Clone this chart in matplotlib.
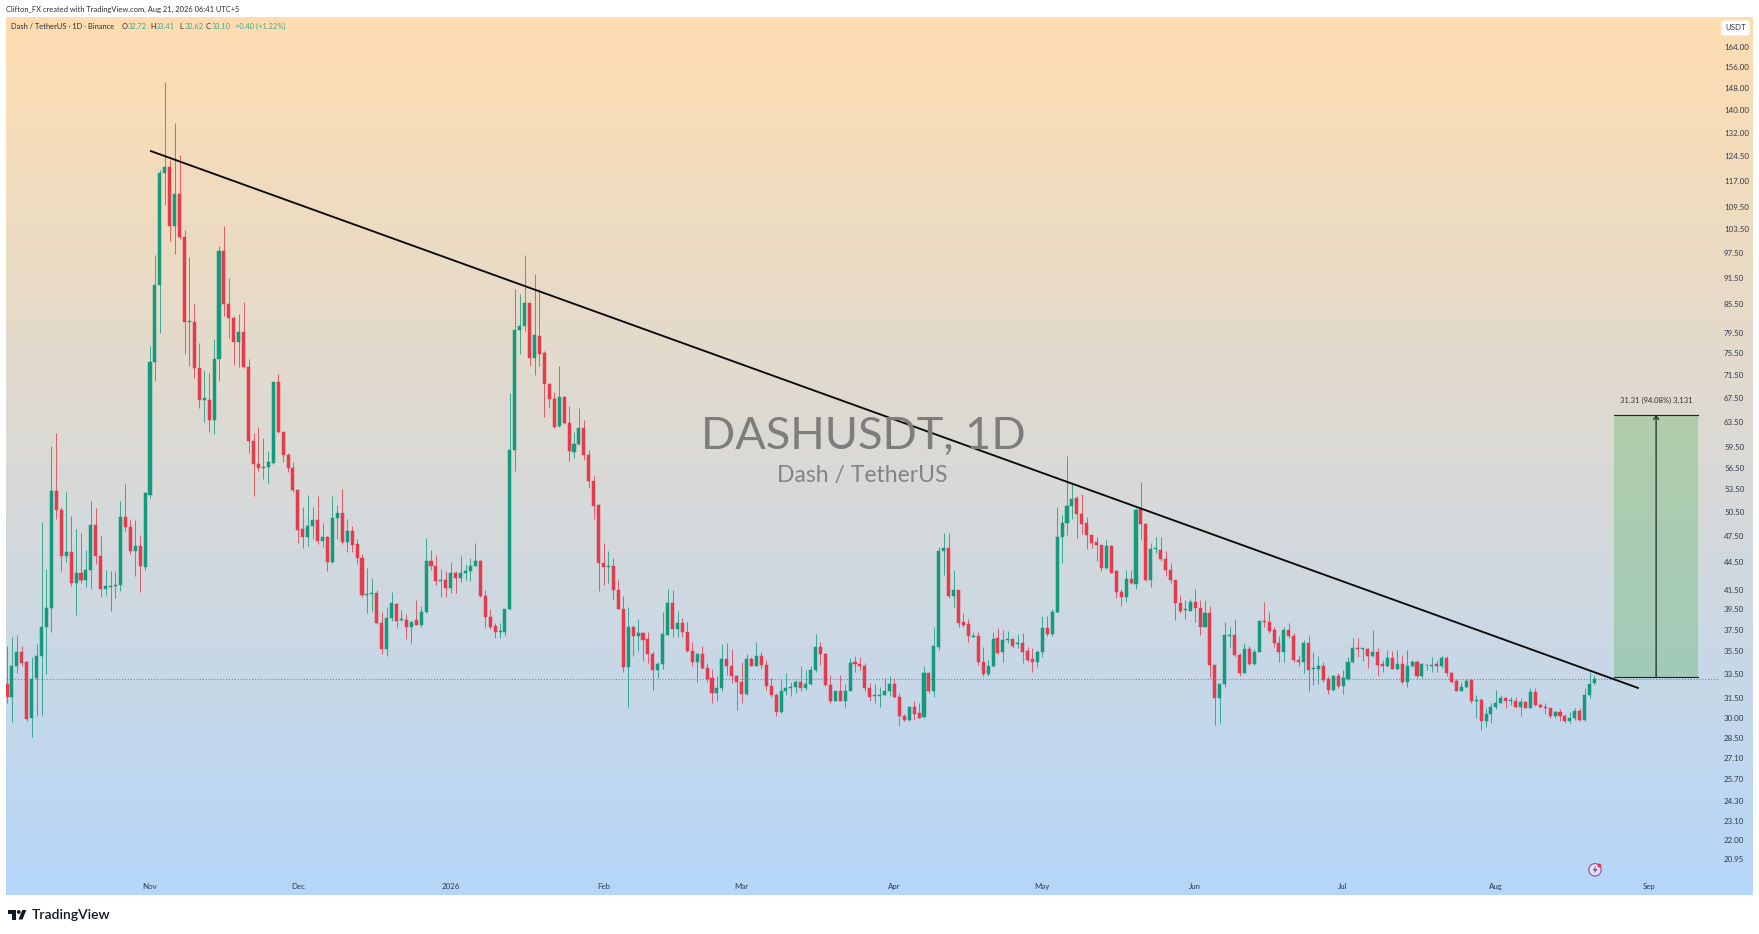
import numpy as np
import pandas as pd
import matplotlib
matplotlib.use("Agg")
import matplotlib.pyplot as plt
import matplotlib.dates as mdates
from matplotlib.patches import Rectangle, Circle, Polygon, FancyBboxPatch
from matplotlib.ticker import FixedLocator, FixedFormatter, NullLocator

start_date = "2025-10-03"
opens = [
32.67,31.58,34.22,35.4,34.5,29.97,33.13,35.1,37.7,39.57,
53.24,50.78,45.22,45.6,42.2,43.25,42.55,43.6,48.9,45.15,
41.6,41.75,41.85,42.0,49.85,48.65,45.7,46.3,43.9,52.8,
73.84,89.8,119.2,121.2,104.2,113.0,101.4,81.7,81.7,72.8,
67.1,67.1,63.7,74.5,98.0,85.6,82.7,77.8,79.8,72.9,
60.54,57.0,56.5,56.55,57.25,70.2,61.8,58.35,56.5,53.4,
48.4,47.45,48.7,49.5,46.98,47.45,44.45,49.7,50.4,46.8,
48.1,46.55,44.95,40.95,41.0,41.15,38.1,35.7,38.6,40.05,
38.4,38.4,37.75,38.4,37.95,39.25,44.6,44.05,42.4,42.55,
41.65,43.3,42.75,43.25,43.45,44.1,44.65,40.85,38.7,37.85,
37.25,37.3,39.5,59.1,80.2,80.9,85.8,74.6,79.0,75.5,
69.9,67.3,62.8,67.6,63.35,58.8,60.0,62.45,58.35,54.7,
51.45,44.35,43.9,44.1,41.45,39.55,34.1,37.75,36.85,37.15,
36.6,35.2,33.85,34.35,37.0,40.15,37.55,38.1,37.3,35.55,
34.5,35.25,34.0,33.15,31.95,32.3,34.8,34.2,33.3,32.85,
31.85,34.8,34.2,35.05,34.3,32.5,31.8,30.4,32.1,32.35,
32.4,32.85,32.3,32.65,33.8,35.9,35.2,32.6,31.3,32.05,
31.3,32.1,34.55,34.35,34.15,32.3,31.65,31.7,31.8,32.05,
32.7,31.6,30.13,29.85,30.85,30.35,30.05,33.6,32.1,35.9,
45.8,46.15,40.8,41.45,38.25,38.0,36.8,36.9,34.55,33.5,
34.2,36.7,35.4,36.55,36.6,36.15,36.25,35.5,34.8,34.55,
35.4,37.65,37.05,39.25,47.45,49.1,51.35,52.3,50.25,49.1,
47.6,46.8,46.4,43.8,46.3,43.45,41.25,40.75,42.65,42.1,
50.85,49.0,42.55,46.0,45.85,44.8,43.55,42.5,40.1,39.45,
39.35,40.2,39.57,37.75,39.15,34.25,31.5,32.65,36.85,36.95,
35.15,33.6,35.65,34.35,35.45,38.3,38.25,37.5,36.2,35.45,
37.45,36.9,34.75,34.5,36.25,33.9,33.9,34.2,33.1,32.15,
33.3,32.5,33.1,34.55,35.8,35.7,35.7,35.1,35.4,34.35,
34.15,34.85,33.9,34.4,32.85,34.15,34.55,33.35,34.3,34.2,
34.35,34.15,34.85,33.55,32.9,32.1,32.4,33.0,31.25,31.4,
29.7,30.3,30.85,31.15,31.5,31.3,31.3,30.85,31.2,30.75,
32.0,31.0,30.85,30.7,30.1,30.4,30.13,29.77,29.95,30.5,
29.8,31.75,32.72]
closes = [
31.58,34.22,35.4,34.45,29.9,33.08,35.1,37.7,39.57,53.24,
50.78,45.22,45.6,42.15,43.25,42.55,43.55,48.9,45.22,41.6,
41.85,41.85,42.0,49.85,48.65,45.7,46.3,44.0,52.97,73.84,
89.8,119.2,121.2,104.2,113.0,101.4,81.7,81.9,72.8,67.1,
67.35,63.7,74.5,98.0,85.6,82.7,77.8,79.8,72.9,60.54,
57.0,56.4,56.65,57.4,70.2,61.8,58.35,56.5,53.4,48.25,
47.45,48.7,49.5,46.98,47.4,44.55,49.7,50.4,46.8,48.1,
46.45,44.9,40.95,41.05,41.15,38.1,35.7,38.6,40.1,38.35,
38.5,37.7,38.25,37.95,39.25,44.6,44.0,42.4,42.55,41.65,
43.3,42.75,43.25,43.45,44.1,44.65,40.8,38.7,37.75,37.25,
37.35,39.5,59.1,80.2,80.9,85.8,74.6,79.1,75.4,69.9,
67.3,62.7,67.6,63.25,58.9,60.0,62.45,58.35,54.7,51.35,
44.35,43.9,44.1,41.45,39.5,34.1,37.75,36.85,37.15,36.55,
35.2,33.85,34.35,37.05,40.15,37.55,38.1,37.3,35.55,34.5,
35.25,34.0,33.05,31.95,32.3,34.8,34.15,33.3,32.85,31.85,
34.8,34.2,35.05,34.25,32.5,31.75,30.4,32.1,32.3,32.45,
32.85,32.3,32.65,33.85,35.9,35.2,32.6,31.3,32.05,31.3,
32.1,34.45,34.4,34.15,32.3,31.6,31.75,31.8,32.05,32.7,
31.6,30.13,29.85,30.85,30.3,30.0,33.6,32.1,35.95,45.8,
46.15,40.8,41.45,38.15,37.95,36.9,36.9,34.55,33.5,34.2,
36.6,35.3,36.55,36.6,36.0,36.25,35.45,34.75,34.55,35.4,
37.65,37.05,39.25,47.45,49.1,51.35,52.15,50.25,49.0,47.6,
46.75,46.4,43.8,46.3,43.3,41.25,40.75,42.65,42.2,50.8,
49.0,42.55,46.0,46.1,44.8,43.55,42.5,40.1,39.35,39.55,
40.2,39.57,37.75,39.15,34.25,31.5,32.65,36.95,36.95,35.15,
33.6,35.65,34.35,35.45,38.3,38.25,37.4,36.2,35.45,37.45,
36.9,34.7,34.5,36.25,33.8,34.0,34.2,33.0,32.15,33.35,
32.5,33.15,34.55,35.8,35.65,35.75,35.1,35.4,34.25,34.2,
34.85,33.95,34.4,32.85,34.15,34.5,33.35,34.4,34.25,34.3,
34.2,34.85,33.55,32.85,32.1,32.4,32.9,31.25,31.4,29.7,
30.3,30.85,31.15,31.5,31.25,31.4,30.85,31.2,30.75,32.0,
30.95,30.85,30.75,30.1,30.4,30.1,29.75,30.0,30.5,29.8,
31.8,32.7,33.1]
highs = [
36.0,36.76,37.0,36.0,34.65,35.0,36.15,49.2,43.7,59.7,
61.7,51.12,53.1,50.05,48.4,47.85,45.85,52.0,51.05,47.55,
43.6,43.5,43.5,52.0,54.25,49.65,49.55,47.7,53.2,76.87,
97.0,120.2,150.4,123.4,135.3,124.9,103.3,96.4,85.6,77.5,
72.4,71.8,78.3,99.1,104.4,91.4,83.0,83.4,86.1,74.45,
61.7,62.7,60.9,58.9,70.3,71.7,61.9,58.6,57.4,53.55,
51.12,52.8,51.2,52.6,49.1,47.55,52.6,51.45,53.55,49.65,
48.8,47.2,45.4,43.8,42.75,41.45,39.25,39.75,41.2,40.1,
39.4,39.0,38.35,40.4,39.85,47.3,45.85,45.3,43.7,43.45,
44.55,43.45,45.2,44.25,44.9,46.75,44.75,41.45,39.55,38.1,
38.15,39.55,68.3,88.8,87.7,97.0,85.9,92.4,88.9,76.0,
70.0,68.4,73.1,67.7,66.1,61.8,65.7,63.7,59.1,55.35,
51.5,46.75,45.7,44.9,42.55,40.8,39.75,37.95,38.5,37.3,
37.3,35.55,34.55,39.25,41.55,41.4,39.35,38.65,38.25,36.35,
35.3,35.95,34.45,33.9,33.3,36.15,36.25,35.7,33.4,34.5,
35.25,35.0,36.3,35.45,34.75,33.15,31.9,33.0,33.55,32.85,
33.0,34.2,33.85,34.15,37.05,36.35,35.3,33.4,32.05,33.4,
32.65,34.85,35.05,35.0,34.45,32.75,32.65,32.45,33.15,33.35,
33.15,31.9,30.25,30.9,31.3,31.15,34.2,33.7,37.75,46.25,
47.95,47.85,43.55,41.5,39.1,38.55,37.3,37.3,35.9,34.7,
37.3,37.65,37.5,37.4,36.7,37.05,37.2,35.9,35.75,35.6,
38.8,38.8,39.55,51.12,50.15,58.2,54.3,52.6,52.9,49.85,
47.7,47.4,46.45,47.05,46.45,43.6,41.55,43.6,43.6,51.0,
54.45,49.1,46.7,47.4,47.4,45.7,44.35,42.55,40.95,40.4,
40.5,41.55,40.4,40.4,39.85,34.3,32.7,38.25,37.75,38.5,
35.3,36.25,35.95,35.65,38.35,40.2,39.25,37.75,36.85,37.7,
38.15,37.2,35.15,36.55,36.95,35.45,35.05,34.55,33.3,33.4,
33.55,33.85,35.0,36.7,36.7,35.8,35.8,37.45,35.8,34.75,
35.6,35.55,35.6,35.15,35.6,34.75,34.75,34.45,34.4,35.0,
34.75,35.15,35.05,33.7,33.05,32.85,33.05,33.05,31.8,31.5,
30.7,31.1,32.2,31.75,31.6,31.6,31.6,31.55,31.3,32.3,
32.3,31.15,31.1,30.75,30.5,30.65,30.25,30.45,30.7,30.7,
32.3,33.7,33.41]
lows = [
31.11,29.64,33.55,34.22,29.77,28.53,30.13,30.2,33.5,37.24,
49.6,43.53,44.45,41.9,38.9,42.15,41.8,41.55,44.25,40.7,
40.95,39.35,40.6,41.3,48.15,45.4,42.9,41.2,43.6,52.4,
70.35,79.5,110.0,100.3,97.2,100.9,75.3,73.1,71.0,65.7,
63.5,61.8,61.6,70.35,83.0,78.5,73.4,72.9,72.8,58.6,
52.6,56.1,54.95,54.4,57.05,61.7,57.4,55.9,53.2,46.7,
46.15,46.35,47.2,46.55,46.2,43.45,44.4,47.2,46.55,45.6,
45.6,44.25,40.7,39.15,39.35,38.03,35.2,35.1,38.35,37.65,
38.35,36.6,36.2,37.9,37.75,39.15,43.55,42.0,40.75,40.75,
41.15,41.15,42.3,42.55,42.4,44.0,40.7,37.65,37.55,36.7,
36.7,36.85,39.4,56.1,75.4,79.9,73.2,71.5,73.2,64.2,
65.7,62.45,62.7,63.15,57.5,57.85,59.9,57.7,53.65,49.6,
41.3,42.0,42.2,40.4,39.5,33.7,30.85,35.1,35.55,34.65,
34.45,32.2,33.2,33.9,36.95,36.75,36.75,36.75,35.4,34.15,
32.85,33.9,32.85,31.15,31.3,32.1,33.4,32.75,30.6,31.15,
31.75,34.15,34.15,33.9,32.2,31.6,30.1,30.35,31.75,31.65,
31.95,32.1,32.2,32.6,33.7,34.25,32.5,31.15,31.25,31.25,
30.85,32.05,33.7,33.85,32.1,31.3,31.15,30.85,31.75,31.65,
31.5,29.35,29.77,29.7,29.8,29.95,30.0,31.9,31.6,35.6,
43.05,40.6,39.67,37.7,37.75,36.35,36.75,34.25,33.35,33.35,
34.1,35.25,34.55,36.2,35.8,35.8,34.45,34.55,33.7,34.1,
35.0,36.85,36.9,39.15,44.4,47.65,49.6,47.25,47.75,45.95,
46.15,44.65,43.45,43.7,43.25,40.6,39.85,40.25,42.05,41.55,
47.05,42.4,41.75,45.5,44.65,42.9,42.2,38.45,39.15,38.55,
39.3,38.25,36.95,37.7,33.15,29.45,29.6,32.4,35.9,35.0,
33.35,33.55,34.3,34.25,35.4,37.75,37.15,35.9,34.55,34.5,
36.7,34.55,34.2,33.55,32.05,32.6,32.7,32.85,31.85,32.1,
32.3,31.85,33.0,34.45,35.0,34.6,34.0,35.0,33.3,33.7,
34.1,33.9,33.85,32.7,32.45,34.1,33.2,33.15,33.85,33.7,
33.7,34.0,33.3,32.75,32.05,32.05,32.3,31.1,29.95,29.1,
29.3,29.6,30.65,31.1,30.75,30.95,30.75,30.1,30.7,30.7,
30.9,30.7,30.3,29.95,30.0,29.7,29.6,29.55,29.85,29.77,
29.7,31.5,32.62]

y_ticks = [164,156,148,140,132,124.5,117,109.5,103.5,97.5,91.5,85.5,79.5,75.5,71.5,67.5,
           63.5,59.5,56.5,53.5,50.5,47.5,44.5,41.5,39.5,37.5,35.5,33.5,31.5,30,28.5,27.1,
           25.7,24.3,23.1,22,20.95]
month_dates = ["2025-11-01","2025-12-01","2026-01-01","2026-02-01","2026-03-01","2026-04-01",
               "2026-05-01","2026-06-01","2026-07-01","2026-08-01","2026-09-01"]
month_labels = ["Nov","Dec","2026","Feb","Mar","Apr","May","Jun","Jul","Aug","Sep"]
last_close = 33.10
trend_dates = ["2025-11-01","2026-08-30"]
trend_prices = [126.2, 32.31]
target_dates = ["2026-08-25","2026-09-11"]
target_low, target_high = 33.28, 64.59
target_label = "31.31 (94.08%) 3,131"

W, H = 1759, 934
DPI = 100
FONT = "Lato"
plt.rcParams["font.family"] = [FONT, "DejaVu Sans"]
GREEN, RED = "#149a7c", "#e63a4d"
L, R, T, B = 6, 1752.5, 17, 895
PX_DAY = 4.93
NOV1_PX = 150.0
PX_LOG = 394.5

fig = plt.figure(figsize=(W/DPI, H/DPI), dpi=DPI, facecolor="white")
rect = [L/W, 1-B/H, (R-L)/W, (B-T)/H]

bg = fig.add_axes(rect, zorder=0)
bg.set_axis_off()
top_c = np.array([255, 221, 176])/255
bot_c = np.array([181, 214, 250])/255
t = np.linspace(0, 1, 256)[:, None, None]
grad = top_c[None, None, :]*(1-t) + bot_c[None, None, :]*t
bg.imshow(grad, aspect="auto", extent=[0, 1, 0, 1], origin="upper")

ax = fig.add_axes(rect, zorder=1)
ax.patch.set_alpha(0)
for s in ax.spines.values():
    s.set_visible(False)
ax.set_yscale("log")

dates = pd.date_range(start_date, periods=len(closes), freq="D")
x = mdates.date2num(dates)
nov1 = mdates.date2num(pd.Timestamp("2025-11-01"))
ax.set_xlim(nov1+(L-NOV1_PX)/PX_DAY, nov1+(R-NOV1_PX)/PX_DAY)
ax.set_ylim(33.5*np.exp((674-B)/PX_LOG), 33.5*np.exp((674-T)/PX_LOG))

o, c, hi, lo = map(np.array, (opens, closes, highs, lows))
up = c >= o
cols = np.where(up, GREEN, RED)
ax.vlines(x, lo, hi, colors=cols, linewidth=0.7, alpha=0.8, zorder=2)
ax.bar(x, np.abs(c-o), bottom=np.minimum(o, c), width=0.62, color=cols,
       edgecolor=cols, linewidth=0.35, zorder=3)

xl = ax.get_xlim()
lp_end = nov1+(1718-NOV1_PX)/PX_DAY
ax.plot([xl[0], lp_end], [last_close]*2, color="#6f8f96", lw=0.8, ls=(0, (1, 1.6)), zorder=1.5)

tx = mdates.date2num(pd.to_datetime(trend_dates))
ax.plot(tx, trend_prices, color="#0b0b0b", lw=1.35, zorder=4, solid_capstyle="butt")

ta, tb = mdates.date2num(pd.to_datetime(target_dates))
ax.add_patch(Rectangle((ta, target_low), tb-ta, target_high-target_low,
                       facecolor="#4caf50", alpha=0.3, edgecolor="none", zorder=1.6))
ax.plot([ta, tb], [target_high]*2, color="#1f2a24", lw=0.85, zorder=4)
ax.plot([ta, tb], [target_low]*2, color="#1f2a24", lw=0.85, zorder=4)
mid = (ta+tb)/2
ax.annotate("", xy=(mid, target_high), xytext=(mid, target_low),
            arrowprops=dict(arrowstyle="->,head_width=0.18,head_length=0.25", color="#1f2a24", lw=0.9,
                            shrinkA=0, shrinkB=0), zorder=4)
ax.text(mid, target_high*1.038, target_label, ha="center", va="center", fontsize=5.5, color="#333333")

ax.yaxis.set_major_locator(FixedLocator(y_ticks))
ax.yaxis.set_major_formatter(FixedFormatter([f"{v:.2f}" for v in y_ticks]))
ax.yaxis.set_minor_locator(NullLocator())
ax.yaxis.tick_right()
ax.tick_params(axis="y", which="major", length=0, pad=-20.5, labelsize=5.7, labelcolor="#2f3a48")
ax.xaxis.set_major_locator(FixedLocator(mdates.date2num(pd.to_datetime(month_dates))))
ax.xaxis.set_major_formatter(FixedFormatter(month_labels))
ax.xaxis.set_minor_locator(NullLocator())
ax.tick_params(axis="x", which="major", length=0, pad=-8.5, labelsize=5.7, labelcolor="#2f3a48")
ax.grid(False)

def ptext(px, py, s, **kw):
    kw.setdefault("va", "center")
    return fig.text(px/W, 1-py/H, s, zorder=5, **kw)

ptext(863.5, 449.3, "DASHUSDT, 1D", ha="center", va="baseline", fontsize=32.5, color="#7d7d7d")
ptext(862, 481.7, "Dash / TetherUS", ha="center", va="baseline", fontsize=16.5, color="#848484")

ptext(6, 9, "Clifton_FX created with TradingView.com, Aug 21, 2026 06:41 UTC+5", fontsize=5.45, color="#2a2e39")
ptext(11, 26.5, "Dash / TetherUS · 1D · Binance", fontsize=5.45, color="#2a2e39")
LG = "#3fa98e"
for px, lab, val in [(122, "O", "32.72"), (150, "H", "33.41"), (179, "L", "32.62"), (206, "C", "33.10")]:
    ptext(px, 26.5, lab, fontsize=5.45, color="#2a2e39")
    ptext(px+6, 26.5, val, fontsize=5.45, color=LG)
ptext(235, 26.5, "+0.40 (+1.22%)", fontsize=5.45, color=LG)

ov = fig.add_axes([0, 0, 1, 1], zorder=4)
ov.set_xlim(0, W); ov.set_ylim(H, 0); ov.set_axis_off(); ov.patch.set_alpha(0)
ov.add_patch(FancyBboxPatch((1722, 21), 27, 14, boxstyle="round,pad=0.5,rounding_size=2",
                            facecolor="white", edgecolor="none"))
ov.text(1735.5, 28, "USDT", ha="center", va="center", fontsize=5.7, color="#2f3a48")

# TradingView logo mark
ov.add_patch(Polygon([(8, 910), (16, 910), (16, 919.5), (12, 919.5), (12, 913.5), (8, 913.5)], closed=True, fc="#131722", ec="none"))
ov.add_patch(Circle((18.8, 912), 1.9, fc="#131722", ec="none"))
ov.add_patch(Polygon([(18.5, 919.5), (22.3, 910), (26.3, 910), (22.5, 919.5)], closed=True, fc="#131722", ec="none"))
ov.text(31.5, 915, "TradingView", ha="left", va="center", fontsize=10.0, color="#131722", weight="semibold")

# flash icon
ov.add_patch(Circle((1595, 869.8), 6.2, fc="#dfe4f5", ec="#9c55a8", lw=0.9))
ov.add_patch(Polygon([(1596, 865.5), (1592.7, 870.5), (1595, 870.5), (1594, 874), (1597.5, 869), (1595.2, 869)], closed=True, fc="#7c4a90", ec="none"))
ov.add_patch(Circle((1599.5, 865.6), 2, fc="#e8375a", ec="none"))

fig.savefig("out.png", dpi=DPI, facecolor="white")
